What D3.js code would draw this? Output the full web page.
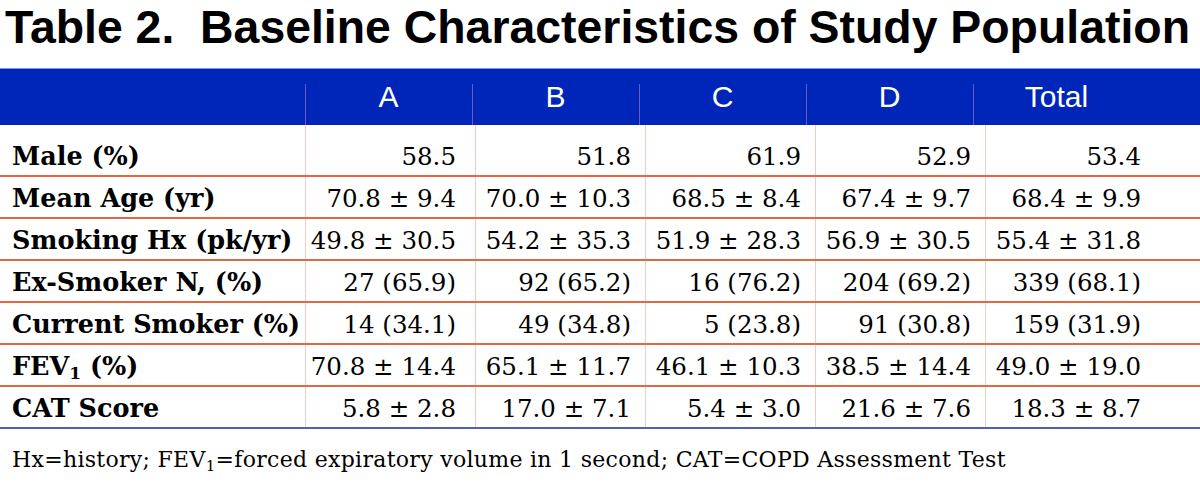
<!DOCTYPE html>
<html><head><meta charset="utf-8">
<script src="https://cdn.jsdelivr.net/npm/d3@7"></script>
<style>html,body{margin:0;padding:0;background:#fff;}svg{display:block;}</style>
</head><body>
<script>
// ---- data ----
const title = "Table 2.  Baseline Characteristics of Study Population";
const groups = ["A", "B", "C", "D", "Total"];
const rowLabels = ["Male (%)", "Mean Age (yr)", "Smoking Hx (pk/yr)", "Ex-Smoker N, (%)", "Current Smoker (%)", "FEV1 (%)", "CAT Score"];
const malePct = [58.5, 51.8, 61.9, 52.9, 53.4];
const ageMean = [70.8, 70.0, 68.5, 67.4, 68.4];
const ageSD = [9.4, 10.3, 8.4, 9.7, 9.9];
const smokeMean = [49.8, 54.2, 51.9, 56.9, 55.4];
const smokeSD = [30.5, 35.3, 28.3, 30.5, 31.8];
const exSmokerN = [27, 92, 16, 204, 339];
const exSmokerPct = [65.9, 65.2, 76.2, 69.2, 68.1];
const curSmokerN = [14, 49, 5, 91, 159];
const curSmokerPct = [34.1, 34.8, 23.8, 30.8, 31.9];
const fevMean = [70.8, 65.1, 46.1, 38.5, 49.0];
const fevSD = [14.4, 11.7, 10.3, 14.4, 19.0];
const catMean = [5.8, 17.0, 5.4, 21.6, 18.3];
const catSD = [2.8, 7.1, 3.0, 7.6, 8.7];
const footnote = "Hx=history; FEV1=forced expiratory volume in 1 second; CAT=COPD Assessment Test";

const f1 = v => v.toFixed(1);
const pm = (m, s) => m.map((v, i) => f1(v) + " \u00B1 " + f1(s[i]));
const np = (n, p) => n.map((v, i) => v + " (" + f1(p[i]) + ")");
const cells = [
  malePct.map(f1),
  pm(ageMean, ageSD),
  pm(smokeMean, smokeSD),
  np(exSmokerN, exSmokerPct),
  np(curSmokerN, curSmokerPct),
  pm(fevMean, fevSD),
  pm(catMean, catSD)
];

// ---- layout ----
const W = 1200, H = 482;
const svg = d3.select("body").append("svg").attr("width", W).attr("height", H);

const x = d3.scaleBand().domain(groups).range([305, 1155]);      // body columns
const xh = d3.scaleBand().domain(groups).range([305, 1140]);     // header columns
const y = d3.scaleBand().domain(rowLabels).range([134, 428]);
const headerTop = 68, headerBottom = 125;

// title
svg.append("text").attr("x", 5).attr("y", 43)
  .attr("font-family", "Liberation Sans, Arial, sans-serif").attr("font-weight", "bold")
  .attr("font-size", 46.4).attr("fill", "#000").style("white-space", "pre").text(title);

// header band
svg.append("rect").attr("x", 0).attr("y", headerTop).attr("width", W).attr("height", headerBottom - headerTop)
  .attr("fill", "#0026B9");
svg.append("line").attr("x1", 0).attr("x2", W).attr("y1", headerTop + 0.5).attr("y2", headerTop + 0.5)
  .attr("stroke", "#7A96E6").attr("stroke-width", 1);

// header separators (faint)
svg.selectAll("line.hv").data(groups).join("line").attr("class", "hv")
  .attr("x1", d => Math.round(xh(d)) + 0.5).attr("x2", d => Math.round(xh(d)) + 0.5)
  .attr("y1", 84).attr("y2", headerBottom)
  .attr("stroke", "#6A5BC0").attr("stroke-width", 1);

// body vertical separators
svg.selectAll("line.v").data(groups).join("line").attr("class", "v")
  .attr("x1", d => Math.round(x(d)) + 0.5).attr("x2", d => Math.round(x(d)) + 0.5)
  .attr("y1", headerBottom).attr("y2", 428)
  .attr("stroke", "#F7C9C0").attr("stroke-width", 1);

// header labels
svg.selectAll("text.h").data(groups).join("text").attr("class", "h")
  .attr("x", d => xh(d) + xh.bandwidth() / 2).attr("y", 107)
  .attr("text-anchor", "middle").attr("font-family", "Liberation Sans, Arial, sans-serif")
  .attr("font-size", 30).attr("fill", "#fff").text(d => d);

// row lines
svg.selectAll("line.r").data(rowLabels.slice(0, -1)).join("line").attr("class", "r")
  .attr("x1", 0).attr("x2", W).attr("y1", d => y(d) + y.bandwidth()).attr("y2", d => y(d) + y.bandwidth())
  .attr("stroke", "#E2683F").attr("stroke-width", 2);
svg.append("line").attr("x1", 0).attr("x2", W).attr("y1", 428).attr("y2", 428)
  .attr("stroke", "#4A62B0").attr("stroke-width", 2);

// row labels
const lab = svg.selectAll("text.l").data(rowLabels).join("text").attr("class", "l")
  .attr("x", 12).attr("y", d => y(d) + y.bandwidth() - 11)
  .attr("font-family", "DejaVu Serif, serif").attr("font-weight", "bold")
  .attr("font-size", 25.5).attr("fill", "#000");
lab.each(function(d) {
  const t = d3.select(this);
  if (d.startsWith("FEV1")) {
    t.append("tspan").text("FEV");
    t.append("tspan").attr("font-size", 17).attr("dy", 4).text("1");
    t.append("tspan").attr("dy", -4).text(" (%)");
  } else t.text(d);
});

// cells
rowLabels.forEach((r, ri) => {
  svg.selectAll(null).data(cells[ri]).join("text")
    .attr("x", (d, i) => x(groups[i]) + x.bandwidth() - (i === 0 ? 19 : 14))
    .attr("y", y(r) + y.bandwidth() - 11)
    .attr("text-anchor", "end").attr("font-family", "DejaVu Serif, serif")
    .attr("font-size", 24.5).attr("fill", "#000").text(d => d);
});

// footnote
const fn = svg.append("text").attr("x", 12).attr("y", 467)
  .attr("font-family", "DejaVu Serif, serif").attr("font-size", 22)
  .attr("letter-spacing", 0.3).attr("fill", "#000");
const parts = footnote.split("FEV1");
fn.append("tspan").text(parts[0] + "FEV");
fn.append("tspan").attr("font-size", 15).attr("dy", 4).text("1");
fn.append("tspan").attr("dy", -4).text(parts[1]);
</script>
</body></html>
